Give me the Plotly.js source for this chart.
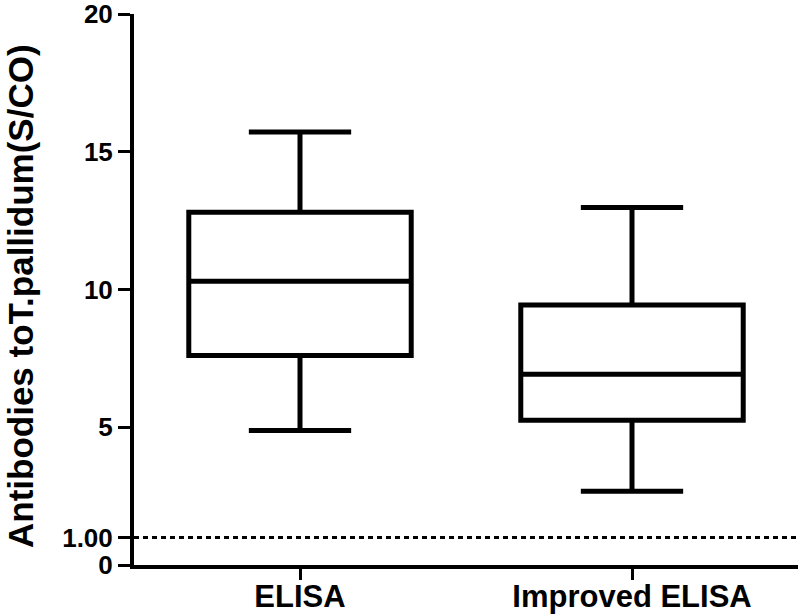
<!DOCTYPE html>
<html>
<head>
<meta charset="utf-8">
<script src="https://cdn.plot.ly/plotly-3.0.1.min.js"></script>
<style>html,body{margin:0;padding:0;background:#fff;}#chart{width:800px;height:614px;}</style>
</head>
<body>
<div id="chart"></div>
<script>
// Data
const categories = ['ELISA', 'Improved ELISA'];
const lowerWhisker = [4.88, 2.68];
const q1Values = [7.6, 5.25];
const medianValues = [10.3, 6.92];
const q3Values = [12.8, 9.44];
const upperWhisker = [15.72, 12.98];
const cutoffValue = 1.0;
const yTickVals = [0, 1, 5, 10, 15, 20];
const yTickText = ['0', '1.00', '5', '10', '15', '20'];
const yTitle = 'Antibodies toT.pallidum(S/CO)';

const fontFam = '"Liberation Sans", Arial, sans-serif';

const trace = {
  type: 'box',
  x: categories,
  lowerfence: lowerWhisker,
  q1: q1Values,
  median: medianValues,
  q3: q3Values,
  upperfence: upperWhisker,
  boxpoints: false,
  width: 0.67,
  whiskerwidth: 0.46,
  fillcolor: '#ffffff',
  line: {color: '#000000', width: 5},
  hoverinfo: 'skip',
  showlegend: false
};

const layout = {
  width: 800,
  height: 614,
  margin: {l: 134, r: 2, t: 14, b: 49},
  paper_bgcolor: '#ffffff',
  plot_bgcolor: '#ffffff',
  font: {family: fontFam, color: '#000000'},
  showlegend: false,
  xaxis: {
    type: 'category',
    range: [-0.5, 1.5],
    showgrid: false,
    zeroline: false,
    showline: true,
    linecolor: '#000000',
    linewidth: 4,
    ticks: 'outside',
    ticklen: 11,
    tickwidth: 3,
    tickcolor: '#000000',
    ticklabelstandoff: -10,
    ticklabeloverflow: 'allow',
    tickfont: {family: fontFam, size: 31, color: '#000000', weight: 'bold'}
  },
  yaxis: {
    range: [0, 20],
    showgrid: false,
    zeroline: false,
    showline: true,
    linecolor: '#000000',
    linewidth: 4,
    ticks: 'outside',
    ticklen: 12,
    tickwidth: 3,
    tickcolor: '#000000',
    tickvals: yTickVals,
    ticktext: yTickText,
    ticklabeloverflow: 'allow',
    tickfont: {family: fontFam, size: 26, color: '#000000', weight: 'bold'}
  },
  annotations: [{
    text: yTitle,
    xref: 'paper',
    yref: 'paper',
    x: -0.171,
    y: 0.489,
    xanchor: 'center',
    yanchor: 'middle',
    textangle: -90,
    showarrow: false,
    font: {family: fontFam, size: 35, color: '#000000', weight: 'bold'}
  }],
  shapes: [{
    type: 'line',
    xref: 'paper',
    yref: 'y',
    x0: 0,
    x1: 1,
    y0: cutoffValue,
    y1: cutoffValue,
    line: {color: '#000000', width: 3, dash: '5px,4px'}
  }]
};

Plotly.newPlot('chart', [trace], layout, {displayModeBar: false, staticPlot: true});
</script>
</body>
</html>
